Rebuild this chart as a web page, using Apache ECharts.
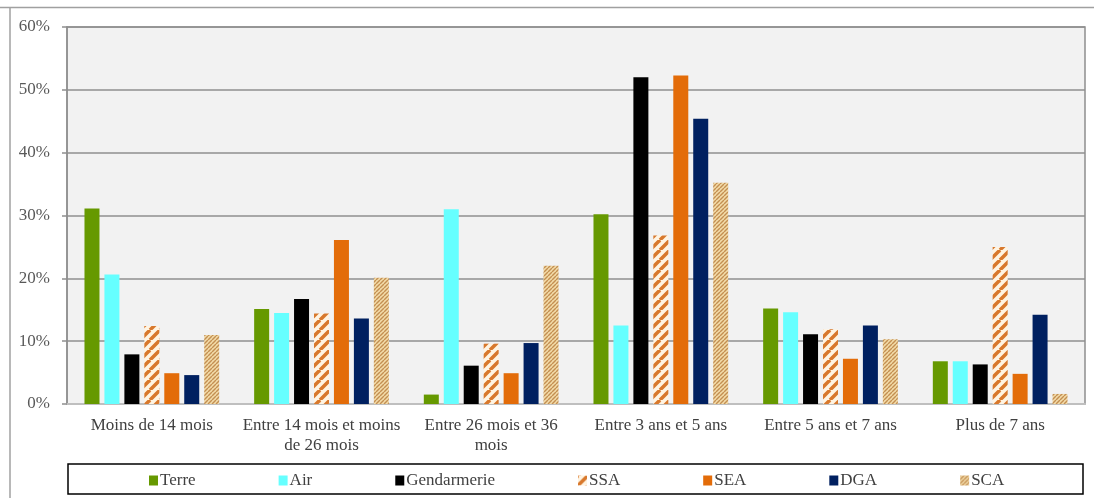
<!DOCTYPE html>
<html>
<head>
<meta charset="utf-8">
<script src="https://cdn.jsdelivr.net/npm/echarts@6/dist/echarts.min.js"></script>
<style>
  html, body { margin: 0; padding: 0; background: #fff; }
  #main { width: 1094px; height: 498px; }
</style>
</head>
<body>
<div id="main"></div>
<script>
// tranches d'ancienneté
var categories = [
  'Moins de 14 mois',
  'Entre 14 mois et moins\nde 26 mois',
  'Entre 26 mois et 36\nmois',
  'Entre 3 ans et 5 ans',
  'Entre 5 ans et 7 ans',
  'Plus de 7 ans'
];
var yTicks = [0, 10, 20, 30, 40, 50, 60];

// valeurs en %
var terre = [31.1, 15.1, 1.5, 30.2, 15.2, 6.8];
var air = [20.6, 14.5, 31.0, 12.5, 14.6, 6.8];
var gendarmerie = [7.9, 16.7, 6.1, 52.0, 11.1, 6.3];
var ssa = [12.4, 14.4, 9.6, 26.8, 11.9, 25.0];
var sea = [4.9, 26.1, 4.9, 52.3, 7.2, 4.8];
var dga = [4.6, 13.6, 9.7, 45.4, 12.5, 14.2];
var sca = [11.0, 20.1, 22.0, 35.2, 10.3, 1.6];

function stripes(bg, fg, size, lineW) {
  var c = document.createElement('canvas');
  c.width = size;
  c.height = size;
  var ctx = c.getContext('2d');
  ctx.fillStyle = bg;
  ctx.fillRect(0, 0, size, size);
  ctx.strokeStyle = fg;
  ctx.lineWidth = lineW;
  for (var k = -1; k <= 1; k++) {
    ctx.beginPath();
    ctx.moveTo(k * size, size);
    ctx.lineTo(k * size + size, 0);
    ctx.stroke();
  }
  return { image: c, repeat: 'repeat' };
}

var ssaFill = stripes('#fff4e2', '#d8782c', 10, 3.5);
var scaFill = stripes('#f3dcaa', '#c48f52', 4, 1.4);

var font = 'Liberation Serif';
var chart = echarts.init(document.getElementById('main'));

function bar(name, data, color) {
  return {
    name: name,
    type: 'bar',
    data: data,
    barWidth: 15,
    barGap: '33%',
    itemStyle: { color: color },
    emphasis: { disabled: true }
  };
}

var option = {
  animation: false,
  backgroundColor: '#fff',
  textStyle: { fontFamily: font },
  grid: {
    left: 67, right: 9, top: 27, bottom: 94,
    show: true,
    backgroundColor: '#f2f2f2',
    borderColor: '#8f8f8f',
    borderWidth: 1.5
  },
  legend: {
    top: 467,
    left: 144,
    itemWidth: 9,
    itemHeight: 10,
    itemGap: 83,
    icon: 'rect',
    textStyle: { fontFamily: font, fontSize: 17, color: '#404040', padding: [0, 0, 0, -3] }
  },
  xAxis: {
    type: 'category',
    data: categories,
    axisLine: { lineStyle: { color: '#bfbfbf', width: 2 } },
    axisTick: { show: false },
    axisLabel: {
      interval: 0,
      margin: 12,
      fontFamily: font,
      fontSize: 17,
      color: '#404040',
      lineHeight: 20
    }
  },
  yAxis: {
    type: 'value',
    min: yTicks[0],
    max: yTicks[yTicks.length - 1],
    interval: 10,
    axisLine: { show: true, lineStyle: { color: '#8f8f8f', width: 1.5 } },
    axisTick: { show: true, length: 5, lineStyle: { color: '#8f8f8f', width: 1.5 } },
    splitLine: { lineStyle: { color: '#8f8f8f', width: 1.5 } },
    axisLabel: {
      formatter: '{value}%',
      margin: 17,
      fontFamily: font,
      fontSize: 17,
      color: '#595959'
    }
  },
  graphic: [
    { type: 'line', shape: { x1: 0, y1: 7.5, x2: 1094, y2: 7.5 }, style: { stroke: '#a0a0a0', lineWidth: 1.5 } },
    { type: 'line', shape: { x1: 10, y1: 7, x2: 10, y2: 498 }, style: { stroke: '#a0a0a0', lineWidth: 1.5 } },
    { type: 'rect', shape: { x: 68, y: 464, width: 1015, height: 30 }, style: { fill: 'none', stroke: '#000', lineWidth: 1.5 }, z: -1 }
  ],
  series: [
    bar('Terre', terre, '#669900'),
    bar('Air', air, '#66ffff'),
    bar('Gendarmerie', gendarmerie, '#000000'),
    bar('SSA', ssa, ssaFill),
    bar('SEA', sea, '#e36c09'),
    bar('DGA', dga, '#002060'),
    bar('SCA', sca, scaFill)
  ]
};

chart.setOption(option);
</script>
</body>
</html>
